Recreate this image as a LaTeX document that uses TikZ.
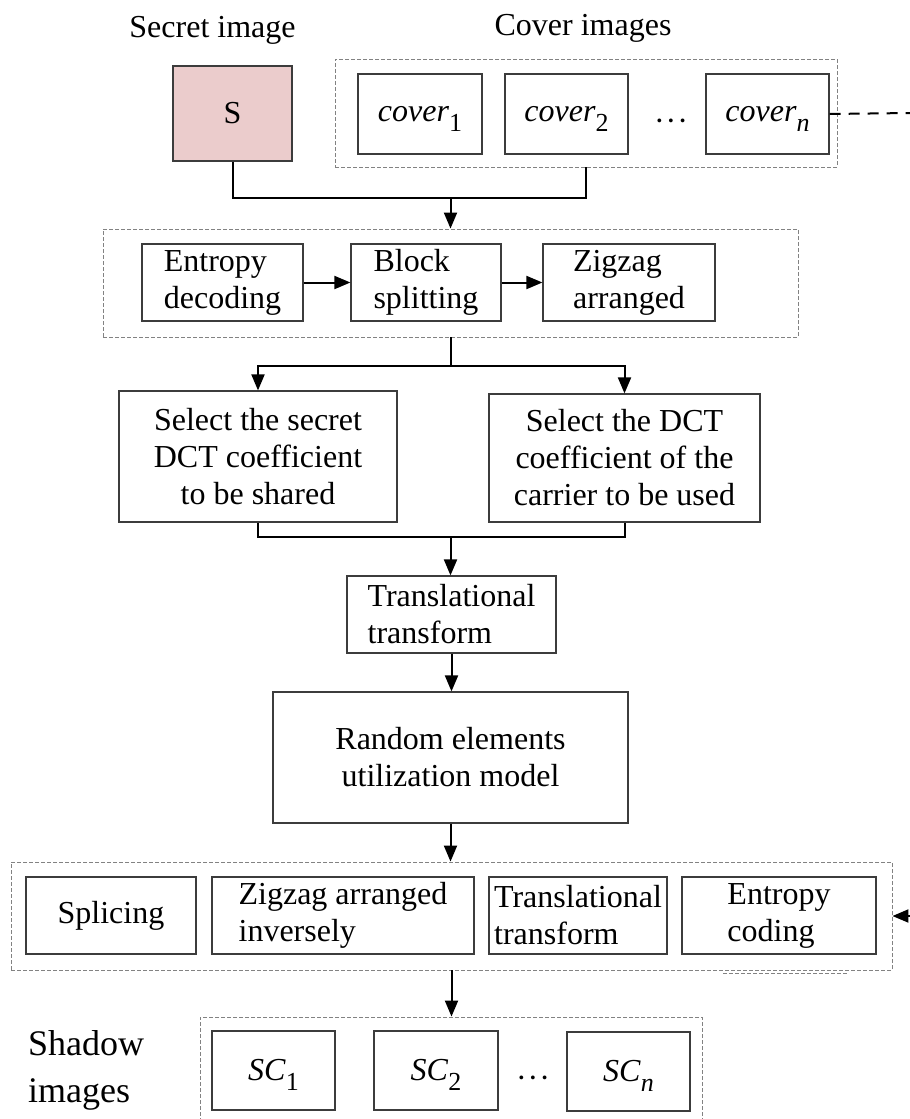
\documentclass[tikz,border=0pt]{standalone}
\usepackage{fontspec}
\setmainfont{Liberation Serif}
\usetikzlibrary{arrows.meta}

\definecolor{secretfill}{RGB}{235,204,204}
\definecolor{boxline}{RGB}{60,60,60}
\definecolor{frameline}{RGB}{130,130,130}

\newcommand{\lowidx}[1]{\raisebox{-10pt}[0pt][0pt]{\fontsize{26}{26}\selectfont #1}}
\newcommand{\middots}{\textperiodcentered\kern1pt\textperiodcentered\kern1pt\textperiodcentered}

\begin{document}
\begin{tikzpicture}[x=1pt,y=-1pt,>={Triangle[length=16pt,width=13pt]},
                    font=\fontsize{32}{37}\selectfont]

  \tikzstyle{box}=[draw=boxline,line width=1.2pt,inner sep=0pt,align=center]
  \tikzstyle{lbox}=[box,align=left]
  \tikzstyle{frame}=[draw=frameline,line width=0.9pt,dash pattern=on 4pt off 2pt,inner sep=0pt]
  \tikzstyle{flow}=[line width=2pt]
  \tikzstyle{link}=[flow,dash pattern=on 11pt off 8pt]

  \useasboundingbox (0,0) rectangle (910,1119);
  \clip (0,0) rectangle (910,1119);

  % top labels
  \node[anchor=base] (lsec) at (212.5,37) {Secret image};
  \node[anchor=base] (lcov) at (583,35)   {Cover images};

  % secret image and cover images
  \node[box,fill=secretfill,minimum width=119pt,minimum height=95pt] (sec) at (232.5,113.5) {S};
  \node[frame,minimum width=502pt,minimum height=108pt] (covers) at (586,113) {};
  \node[box,minimum width=124pt,minimum height=80pt] (c1) at (420,114)   {\textit{cover}\lowidx{1}};
  \node[box,minimum width=123pt,minimum height=80pt] (c2) at (566.5,114) {\textit{cover}\lowidx{2}};
  \node (cdots) at (671,125) {\middots};
  \node[box,minimum width=123pt,minimum height=80pt] (cn) at (767.5,114) {\textit{cover}\lowidx{\textit{n}}};
  \coordinate (cout) at (910,113);

  % decoding stage
  \node[frame,minimum width=695pt,minimum height=108pt] (pre) at (450.5,283) {};
  \node[lbox,minimum width=161pt,minimum height=77pt] (ed) at (222.5,282.5) {Entropy\\decoding};
  \node[lbox,minimum width=150pt,minimum height=77pt] (bs) at (426,282.5)   {Block\\splitting};
  \node[lbox,minimum width=172pt,minimum height=77pt] (za) at (629,282.5)   {Zigzag\\arranged};

  \coordinate (j1) at (450.5,197);
  \coordinate (j2) at (450.5,366);
  \coordinate (j3) at (450.5,537);

  % coefficient selection
  \node[box,minimum width=278pt,minimum height=131pt] (sel1) at (258,456.5) {Select the secret\\DCT coefficient\\to be shared};
  \node[box,minimum width=271pt,minimum height=128pt] (sel2) at (624.5,458) {Select the DCT\\coefficient of the\\carrier to be used};

  \node[lbox,minimum width=209pt,minimum height=77pt] (tt) at (451.5,614.5) {Translational\\transform};
  \node[box,minimum width=355pt,minimum height=131pt] (rm) at (450.5,757.5) {Random elements\\utilization model};

  % encoding stage
  \node[frame,minimum width=881pt,minimum height=108pt] (post) at (451.5,916) {};
  \node[box,minimum width=170pt,minimum height=77pt]  (sp) at (111,915.5) {Splicing};
  \node[lbox,minimum width=262pt,minimum height=77pt] (zi) at (343,915.5) {Zigzag arranged\\inversely};
  \node[lbox,minimum width=178pt,minimum height=77pt] (tr) at (578,915.5) {Translational\\transform};
  \node[lbox,minimum width=194pt,minimum height=77pt] (ec) at (779,915.5) {Entropy\\coding};
  \coordinate (rin) at (910,916);
  \draw[draw=frameline,line width=0.9pt,dash pattern=on 4pt off 2pt] (723,973) -- (848,973);

  % shadow images
  \node[frame,minimum width=502pt,minimum height=113pt] (shadows) at (451,1073.5) {};
  \node[box,minimum width=123pt,minimum height=79pt] (sc1) at (273.5,1070.5) {\textit{SC}\lowidx{1}};
  \node[box,minimum width=124pt,minimum height=79pt] (sc2) at (436,1070.5)   {\textit{SC}\lowidx{2}};
  \node (sdots) at (533,1082) {\middots};
  \node[box,minimum width=123pt,minimum height=79pt] (scn) at (628.5,1071.5) {\textit{SC}\lowidx{\textit{n}}};
  \node[align=left,anchor=north west,inner sep=0pt,font=\fontsize{36}{47}\selectfont] (lsh) at (28,1030) {Shadow\\images};

  % connectors
  \draw[flow] (sec.south) -- ++(0,36) -| (covers.south);
  \draw[flow,->] (j1) -- (pre.north);
  \draw[link] (cn.east) -- (cout);
  \draw[flow,->] (ed) -- (bs);
  \draw[flow,->] (bs) -- (za);
  \draw[flow] (pre.south) -- (j2);
  \draw[flow,->] (j2) -| (sel1.north);
  \draw[flow,->] (j2) -| (sel2.north);
  \draw[flow] (sel1.south) |- (j3);
  \draw[flow] (sel2.south) |- (j3);
  \draw[flow,->] (j3) -- (j3 |- tt.north);
  \draw[flow,->] (tt.south) -- (tt.south |- rm.north);
  \draw[flow,->] (rm.south) -- (rm.south |- post.north);
  \draw[link,->] (rin) -- (post.east);
  \draw[flow,->] (post.south) -- (post.south |- shadows.north);
\end{tikzpicture}
\end{document}
